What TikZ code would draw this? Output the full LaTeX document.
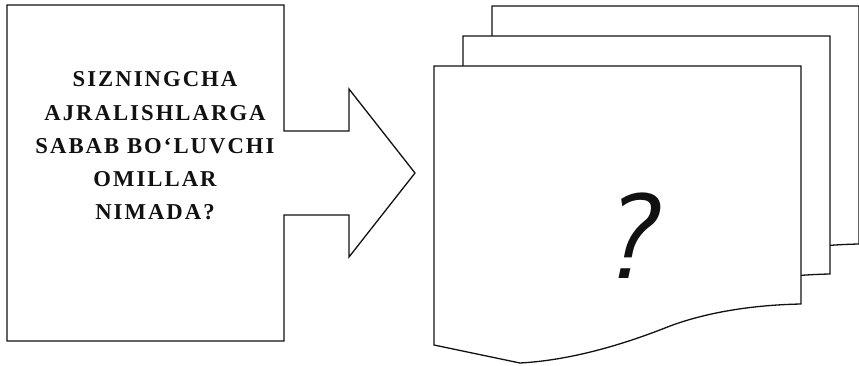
\documentclass[tikz,border=0pt]{standalone}
\usepackage{fontspec}
\setmainfont{Liberation Serif}
\newfontfamily\asksfont{Liberation Serif}[LetterSpace=9]
\usetikzlibrary{positioning}
\definecolor{Ink}{HTML}{111111}
\definecolor{Paper}{HTML}{FFFFFF}
\begin{document}
\begin{tikzpicture}[x=1pt,y=-1pt,every node/.style={text=Ink},outline/.style={draw=Ink,line width=1.3pt,line join=miter},page/.style={outline,fill=Paper},asks/.style={font=\asksfont\fontsize{22.7}{33.25}\selectfont\bfseries,align=center,inner sep=0pt},qsign/.style={font=\fontsize{122}{122}\selectfont\sffamily\itshape,inner sep=0pt}]
\fill[Paper] (0,0) rectangle (859,365); \useasboundingbox (0,0) rectangle (859,365);
% question box with its arrow
\draw[outline] (7,5) -- (284,5) -- (284,131) -- (349,131) -- (349,89) -- (415,173) -- (349,257) -- (349,215) -- (284,215) -- (284,341) -- (7,341) -- cycle;
\node[asks](question) at (155,146){SIZNINGCHA\\AJRALISHLARGA\\SABAB BO‘LUVCHI\\OMILLAR\\NIMADA?};
% stack of pages, back to front
\begin{scope}
\clip (0,0) rectangle (859,365);
\foreach \k in {2,1,0}{
\path[page,shift={(29*\k,-30*\k)}] (434,66) -- (801,66) -- (801,304) .. controls (750,305) and (705,313) .. (670,326) .. controls (630,342) and (575,360) .. (520,363) -- (434,345) -- cycle;
}
\end{scope}
\node[qsign](answer) at (626,236){?};
\end{tikzpicture}
\end{document}
